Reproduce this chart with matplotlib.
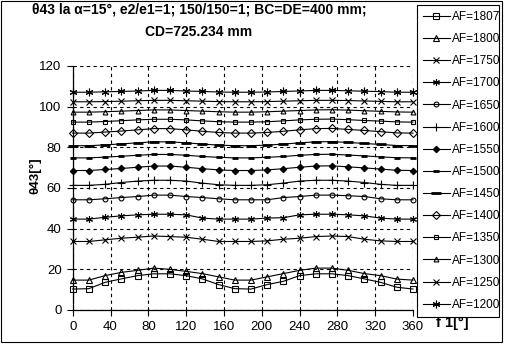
import numpy as np
import matplotlib
matplotlib.use("Agg")
import matplotlib.pyplot as plt
from matplotlib.patches import Rectangle

plt.rcParams['font.family'] = ['Liberation Sans', 'DejaVu Sans']

# angle f1 in degrees, 22 samples per turn
f1 = np.linspace(0, 360, 22)

labels = ["AF=1807", "AF=1800", "AF=1750", "AF=1700", "AF=1650", "AF=1600", "AF=1550",
          "AF=1500", "AF=1450", "AF=1400", "AF=1350", "AF=1300", "AF=1250", "AF=1200"]

af1807 = [10.3, 10.5, 13.6, 15.3, 16.9, 17.8, 17.8, 16.9, 15.3, 12.5, 10.5,
          10.3, 12.5, 14.1, 16.9, 17.8, 17.8, 16.9, 15.3, 13.6, 11.2, 10.3]
af1800 = [14.7, 14.7, 16.9, 18.5, 19.5, 20.6, 20.0, 19.0, 17.9, 16.3, 14.7,
          14.7, 16.3, 17.9, 19.5, 20.6, 20.6, 19.5, 17.9, 16.9, 15.2, 14.7]
af1750 = [33.7, 33.7, 34.5, 35.3, 35.8, 36.4, 36.1, 35.8, 34.8, 33.7, 33.7,
          33.7, 34.0, 34.8, 35.3, 36.1, 36.4, 36.1, 34.8, 34.0, 33.7, 33.7]
af1700 = [44.7, 44.7, 45.6, 46.3, 46.8, 47.1, 47.1, 46.8, 45.2, 44.7, 44.7,
          44.7, 45.2, 45.4, 46.8, 47.1, 47.1, 46.8, 46.3, 45.2, 44.7, 44.7]
af1650 = [54.2, 54.2, 54.7, 55.3, 55.8, 56.5, 56.5, 55.8, 55.3, 54.7, 54.2,
          54.2, 54.2, 55.3, 55.8, 56.5, 56.5, 56.2, 55.8, 54.7, 54.2, 54.2]
af1600 = [61.3, 61.3, 61.8, 62.7, 63.4, 63.8, 63.8, 63.4, 62.4, 61.6, 61.3,
          61.3, 61.6, 62.4, 63.4, 63.8, 63.8, 63.4, 62.7, 61.8, 61.3, 61.3]
af1550 = [68.6, 68.6, 69.1, 69.6, 70.2, 70.8, 70.8, 70.2, 69.5, 68.9, 68.6,
          68.6, 68.9, 69.5, 70.2, 70.8, 70.9, 70.4, 69.9, 69.3, 68.7, 68.6]
af1500 = [74.8, 74.8, 75.2, 75.6, 76.1, 76.5, 76.5, 76.1, 75.5, 75.1, 74.8,
          74.8, 75.1, 75.5, 76.1, 76.5, 76.6, 76.2, 75.8, 75.3, 74.9, 74.8]
af1450 = [80.8, 80.8, 81.2, 81.7, 82.2, 82.7, 82.7, 82.2, 81.6, 81.1, 80.8,
          80.8, 81.1, 81.6, 82.2, 82.7, 82.8, 82.4, 81.9, 81.4, 80.9, 80.8]
af1400 = [87.0, 87.0, 87.5, 88.0, 88.6, 89.2, 89.2, 88.6, 87.9, 87.3, 87.0,
          87.0, 87.3, 87.9, 88.6, 89.2, 89.3, 88.8, 88.3, 87.7, 87.1, 87.0]
af1350 = [92.4, 92.4, 92.7, 93.1, 93.5, 93.8, 93.8, 93.5, 93.0, 92.6, 92.4,
          92.4, 92.6, 93.0, 93.5, 93.8, 93.9, 93.6, 93.2, 92.9, 92.5, 92.4]
af1300 = [97.3, 97.3, 97.5, 97.8, 98.1, 98.4, 98.4, 98.1, 97.8, 97.5, 97.3,
          97.3, 97.5, 97.8, 98.1, 98.4, 98.5, 98.3, 98.0, 97.7, 97.4, 97.3]
af1250 = [102.4, 102.4, 102.5, 102.7, 102.9, 103.1, 103.1, 102.9, 102.7, 102.5, 102.4,
          102.4, 102.5, 102.7, 102.9, 103.1, 103.1, 103.0, 102.8, 102.6, 102.4, 102.4]
af1200 = [107.1, 107.1, 107.3, 107.5, 107.7, 108.0, 108.0, 107.7, 107.5, 107.2, 107.1,
          107.1, 107.2, 107.5, 107.7, 108.0, 108.0, 107.8, 107.6, 107.4, 107.1, 107.1]

series = [af1807, af1800, af1750, af1700, af1650, af1600, af1550,
          af1500, af1450, af1400, af1350, af1300, af1250, af1200]

# marker, size, filled, edge width
markers = [('s', 4.5, False, 0.8), ('^', 4.5, False, 0.8), ('x', 4, True, 0.8),
           ((6, 2, 0), 5, True, 0.8), ('o', 3.5, False, 0.8), ('+', 6, True, 0.8),
           ('D', 3.3, True, 0.8), ('_', 4.5, True, 2.0), ('_', 6.5, True, 2.0),
           ('D', 3.8, False, 0.8), ('s', 3, False, 0.8), ('^', 3.5, False, 0.8),
           ('x', 4.5, True, 0.8), ((6, 2, 0), 5.5, True, 0.8)]

W, H = 509, 348
fig = plt.figure(figsize=(W / 100, H / 100), dpi=100)
ax = fig.add_axes([72.7 / W, 38 / H, (413 - 72.7) / W, (310 - 66) / H])

handles = []
for vals, (m, ms, filled, mew) in zip(series, markers):
    line, = ax.plot(f1, vals, color='black', lw=0.8, marker=m, markersize=ms,
                    markerfacecolor='black' if filled else 'none',
                    markeredgecolor='black', markeredgewidth=mew, clip_on=False)
    handles.append(line)

ax.set_xlim(0, 360)
ax.set_ylim(0, 120)
ax.set_xticks(np.arange(0, 361, 40))
ax.set_yticks(np.arange(0, 121, 20))
ax.tick_params(direction='out', length=4, width=0.8, labelsize=9.5, pad=4)
for s in ['top', 'right']:
    ax.spines[s].set_visible(False)
for s in ['left', 'bottom']:
    ax.spines[s].set_linewidth(0.9)
ax.grid(True, color='black', linestyle=(0, (3, 3)), linewidth=0.8)
ax.set_axisbelow(True)

fig.text(199 / W, 1 - 3 / H, "θ43 la α=15°, e2/e1=1; 150/150=1; BC=DE=400 mm;\nCD=725.234 mm",
         ha='center', va='top', fontsize=10, fontweight='bold', linespacing=1.75)
fig.text(35 / W, 1 - 176 / H, "θ43[°]", rotation=90, ha='center', va='center',
         fontsize=9.5, fontweight='bold')
fig.text(452 / W, 1 - 323 / H, "f 1[°]", ha='center', va='center',
         fontsize=10.5, fontweight='bold')

leg = fig.legend(handles, labels, loc='upper left',
                 bbox_to_anchor=(417 / W, 1 - 5 / H, 82 / W, 0), mode='expand',
                 borderaxespad=0, fancybox=False, edgecolor='black', framealpha=1,
                 fontsize=8.5, handlelength=2.3, handletextpad=0.2,
                 labelspacing=0.86, borderpad=0.5)
leg.get_frame().set_linewidth(0.8)

fig.add_artist(Rectangle((1 / W, 6 / H), 501 / W, 341 / H, transform=fig.transFigure,
                         fill=False, edgecolor='black', linewidth=0.8))

fig.savefig("out.png", dpi=100)
